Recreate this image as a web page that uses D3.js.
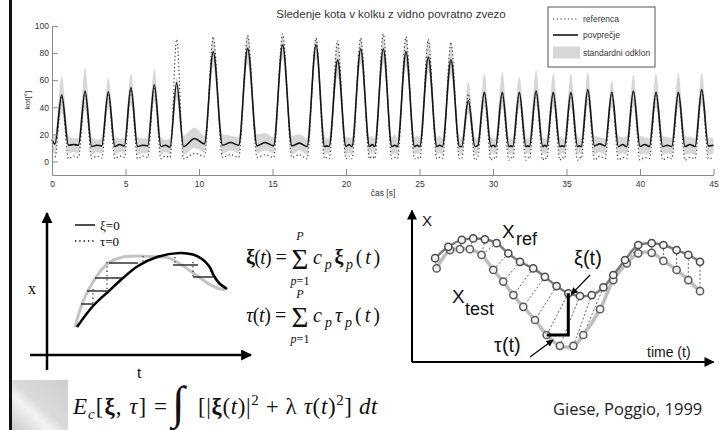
<!DOCTYPE html>
<html><head><meta charset="utf-8">
<script src="https://cdn.jsdelivr.net/npm/d3@7"></script>
<style>
html,body{margin:0;padding:0;background:#fff;}
svg{display:block;}
</style></head><body>
<svg id="c" width="719" height="430"></svg>
<script>
// ---------- Upper panel: hip angle tracking with visual feedback ----------
const time = [
  0.00, 0.20, 0.66, 1.12, 1.47, 1.80, 2.25, 2.70, 3.04, 3.38, 3.83, 4.28, 4.60, 4.92,
  5.37, 5.82, 6.17, 6.51, 6.96, 7.41, 7.72, 8.03, 8.48, 8.95, 9.70, 10.37, 10.97, 11.60,
  12.15, 12.70, 13.31, 13.95, 14.50, 15.07, 15.69, 16.32, 16.84, 17.35, 17.96, 18.55, 18.70, 18.85,
  19.43, 20.00, 20.20, 20.40, 21.00, 21.60, 21.78, 21.95, 22.54, 23.12, 23.32, 23.50, 24.08, 24.66,
  24.84, 25.02, 25.60, 26.18, 26.37, 26.56, 27.14, 27.72, 27.87, 28.32, 28.77, 28.96, 29.41, 29.86,
  30.02, 30.18, 30.63, 31.08, 31.21, 31.34, 31.79, 32.24, 32.36, 32.48, 32.93, 33.38, 33.52, 33.65,
  34.10, 34.55, 34.70, 34.85, 35.30, 35.75, 35.88, 36.00, 36.45, 36.90, 37.26, 37.63, 38.08, 38.53,
  38.82, 39.10, 39.55, 40.00, 40.32, 40.64, 41.09, 41.54, 41.85, 42.16, 42.61, 43.06, 43.40, 43.75,
  44.20, 44.65, 45.00
];
const povprecje = [
  16, 13, 49, 12, 12.5, 12, 52, 11, 12, 11.5, 51.5, 11, 12.5, 11.5,
  54.5, 11, 12, 11.5, 56.5, 11, 12, 10.5, 58, 11, 17, 13, 81, 12,
  14, 12, 83.5, 11.5, 14, 11.5, 86, 11.5, 13.5, 11, 86, 11, 11.5, 11,
  75, 11, 12.5, 11, 83, 11, 12.5, 11, 83, 11, 12, 11, 81, 11,
  12, 11, 77, 11, 12, 11, 75, 11, 11, 45, 11, 11.5, 51, 11,
  12, 11, 51, 11, 11.5, 11, 51, 11, 11.5, 11, 52, 11, 12, 11,
  51, 11, 11.5, 11, 51, 11, 11.5, 11, 53, 11.5, 13, 11.5, 51, 11,
  12.5, 11, 52, 11, 12.5, 11, 51, 11, 12, 11, 51, 11, 12.5, 11,
  53, 11.5, 12
];
const referenca = [
  4, 3, 48, 2, 4, 3, 51, 2, 4, 2.5, 50, 2, 4, 3,
  53, 2, 4, 3, 55, 2, 4, 3, 90, 2, 6, 4, 92, 3,
  5, 3, 93, 3, 5, 3, 94, 3, 5, 2, 91, 2, 3, 2,
  89, 2, 4, 2, 91, 2, 4, 2, 94, 2, 3, 2, 92, 2,
  3, 2, 90, 2, 3, 2, 88, 2, 2, 50, 1, 3, 51, 1,
  3, 2, 51, 1, 3, 2, 51, 1, 3, 2, 52, 1, 3, 2,
  51, 1, 3, 2, 51, 1, 3, 2, 53, 1, 4, 2, 51, 1,
  3, 2, 52, 1, 3, 2, 51, 1, 3, 2, 51, 1, 3, 2,
  53, 2, 3
];
const odklonSpodaj = [
  6, 6, 36, 6, 7, 6, 38, 5, 7, 6, 40, 5, 7, 6,
  42, 5, 6, 6, 44, 5, 7, 5, 46, 5, 10, 7, 70, 6,
  8, 6, 72, 6, 8, 6, 76, 5, 8, 5, 76, 5, 6, 5,
  62, 5, 6, 5, 72, 5, 7, 5, 72, 5, 6, 5, 70, 5,
  6, 5, 66, 5, 6, 5, 64, 5, 5, 35, 5, 6, 40, 5,
  6, 5, 40, 5, 6, 5, 40, 5, 6, 5, 41, 5, 6, 5,
  40, 5, 6, 5, 40, 5, 6, 5, 42, 5, 7, 5, 40, 5,
  6, 5, 40, 5, 6, 5, 40, 5, 6, 5, 40, 5, 6, 5,
  42, 5, 6
];
const odklonZgoraj = [
  24, 19, 63, 19, 17, 17, 69, 18, 16, 17, 62, 18, 17, 17,
  65, 18, 17, 17, 68, 18, 16, 17, 62, 19, 25, 19, 92, 20,
  19, 18, 94, 20, 21, 18, 94, 19, 20, 17, 92, 19, 17, 17,
  88, 18, 18, 17, 92, 18, 19, 17, 93, 18, 20, 17, 93, 18,
  19, 17, 91, 18, 19, 17, 88, 18, 17, 59, 18, 17, 65, 18,
  17, 17, 66, 18, 17, 17, 62.5, 18, 17, 17, 67.5, 18, 17, 17,
  65, 18, 17, 17, 65, 18, 17, 17, 66, 19, 18, 17, 59.5, 19,
  18, 18, 64, 19, 18, 17, 65, 19, 18, 17, 65, 19, 18, 17,
  65.5, 18, 17
];
const xTicks = [0, 5, 10, 15, 20, 25, 30, 35, 40, 45];
const yTicks = [0, 20, 40, 60, 80, 100];
const legendLabels = ["referenca", "povprečje", "standardni odklon"];

// ---------- Lower-left sketch: warping of a trajectory (t, x) ----------
const sketchBlack = [[1.5,1.4],[2.3,2.45],[3.15,3.25],[3.8,3.85],[4.55,4.45],[5.5,4.9],[6.65,5.1],[7.3,5.02],[7.75,4.8],[8.1,4.45],[8.35,3.95],[8.6,3.6],[9.0,3.3]];
const sketchGray = [[1.4,1.4],[1.65,2.25],[1.9,2.9],[2.3,3.65],[2.8,4.35],[3.15,4.65],[3.8,4.9],[4.65,4.95],[5.5,4.9],[6.0,4.88],[6.5,4.65],[7.1,4.25],[7.6,3.9],[8.1,3.55],[8.5,3.35],[8.9,3.25]];
const spaceShift = [[3.1,4.55,4.6],[2.4,3.8,3.85],[2.0,3.15,3.2],[1.7,2.3,2.55],[6.3,7.55,4.5],[7.3,8.3,3.9]];
const timeShift = [[3.0,4.65,3.3],[2.3,3.3,2.6],[4.8,4.95,4.55],[6.4,4.9,4.5],[7.3,4.65,3.9]];

// ---------- Lower-right sketch: reference and test trajectories ----------
const xRef = [[0.77,3.46],[1.21,3.84],[1.66,4.07],[2.04,4.12],[2.43,4.09],[2.82,3.96],[3.21,3.62],[3.6,3.34],[4.04,3.12],[4.43,2.84],[4.82,2.53],[5.21,2.29],[5.6,2.2],[5.99,2.23],[6.38,2.49],[6.71,2.9],[7.1,3.4],[7.54,3.9],[7.99,3.96],[8.38,3.9],[8.82,3.73],[9.21,3.57],[9.6,3.34]];
const xTest = [[0.82,3.12],[1.27,3.73],[1.6,3.76],[1.93,3.76],[2.32,3.57],[2.71,3.07],[3.04,2.68],[3.38,2.23],[3.71,1.84],[4.1,1.4],[4.49,0.9],[4.93,0.54],[5.38,0.54],[5.71,0.9],[6.27,1.76],[6.71,2.73],[7.16,3.29],[7.54,3.62],[7.99,3.64],[8.38,3.37],[8.82,3.07],[9.21,2.73],[9.6,2.36]];
const warpPairs = [[0,0],[1,1],[2,2],[3,3],[4,4],[5,4],[6,5],[7,6],[8,7],[9,8],[10,9],[11,10],[12,11],[13,12],[14,13],[15,14],[16,15],[17,16],[18,18],[19,19],[20,20],[21,21],[22,22]];
const markedRef = 11, markedTest = 10;

const svg = d3.select('#c');
const W = 719, H = 430;
const sans = "'Liberation Sans', Arial, sans-serif";
const serif = "'Liberation Serif', 'Times New Roman', serif";

// arrowheads
const defs = svg.append('defs');
function arrowMarker(id, w, h) {
  defs.append('marker').attr('id', id).attr('viewBox', '0 0 10 10')
    .attr('refX', 9).attr('refY', 5).attr('markerUnits', 'userSpaceOnUse')
    .attr('markerWidth', w).attr('markerHeight', h).attr('orient', 'auto')
    .append('path').attr('d', 'M0,0L10,5L0,10Z').attr('fill', '#000');
}
arrowMarker('axisHead', 15, 11);
arrowMarker('axisHead2', 13, 10);
arrowMarker('smallHead', 8, 7);
const grad = defs.append('linearGradient').attr('id', 'corner')
  .attr('x1', 0).attr('y1', 1).attr('x2', 1).attr('y2', 0);
[[0,'#c9c9c9'],[0.35,'#f3f3f3'],[0.5,'#dadada'],[1,'#cfcfcf']].forEach(([o,c]) =>
  grad.append('stop').attr('offset', o).attr('stop-color', c));

svg.append('rect').attr('width', W).attr('height', H).attr('fill', '#fff');
svg.append('rect').attr('x', 9).attr('y', 0).attr('width', 3).attr('height', H).attr('fill', '#111');
svg.append('rect').attr('x', 12).attr('y', 380).attr('width', 56).attr('height', 50).attr('fill', 'url(#corner)');

// ---------- upper chart ----------
const x = d3.scaleLinear([0, 45], [52, 713.5]);
const y = d3.scaleLinear([-10, 100], [175, 26]);
const rows = time.map((t, i) => ({t, ref: referenca[i], mean: povprecje[i], lo: odklonSpodaj[i], hi: odklonZgoraj[i]}));
const upper = svg.append('g');

upper.append('path').datum(rows)
  .attr('d', d3.area().x(d => x(d.t)).y0(d => y(d.lo)).y1(d => y(d.hi)).curve(d3.curveMonotoneX))
  .attr('fill', '#d7d7d7');
upper.append('path').datum(rows)
  .attr('d', d3.line().x(d => x(d.t)).y(d => y(d.ref)).curve(d3.curveMonotoneX))
  .attr('fill', 'none').attr('stroke', '#3a3a3a').attr('stroke-width', 1.1).attr('stroke-dasharray', '1.3,2.4');
upper.append('path').datum(rows)
  .attr('d', d3.line().x(d => x(d.t)).y(d => y(d.mean)).curve(d3.curveMonotoneX))
  .attr('fill', 'none').attr('stroke', '#151515').attr('stroke-width', 1.6);

const xAxis = upper.append('g').attr('transform', `translate(0,${y(-10)})`)
  .call(d3.axisBottom(x).tickValues(xTicks).tickSizeInner(-6).tickSizeOuter(0).tickPadding(5.5));
const yAxis = upper.append('g').attr('transform', `translate(${x(0)},0)`)
  .call(d3.axisLeft(y).tickValues(yTicks).tickSizeInner(-6).tickSizeOuter(0).tickPadding(3));
[xAxis, yAxis].forEach(a => {
  a.select('.domain').attr('stroke', '#8a8a8a');
  a.selectAll('.tick line').attr('stroke', '#8a8a8a');
  a.selectAll('.tick text').attr('fill', '#333').style('font-family', sans).style('font-size', '8.5px');
});

upper.append('text').attr('x', 391).attr('y', 18).attr('text-anchor', 'middle')
  .style('font-family', sans).style('font-size', '11.5px').attr('fill', '#333')
  .text('Sledenje kota v kolku z vidno povratno zvezo');
upper.append('text').attr('x', 383).attr('y', 196).attr('text-anchor', 'middle')
  .style('font-family', sans).style('font-size', '8.5px').attr('fill', '#333').text('čas [s]');
upper.append('text').attr('transform', 'translate(30,100) rotate(-90)').attr('text-anchor', 'middle')
  .style('font-family', sans).style('font-size', '8px').attr('fill', '#333').text('kot[°]');

// legend
const lg = upper.append('g');
lg.append('rect').attr('x', 548).attr('y', 7).attr('width', 107).attr('height', 60)
  .attr('fill', '#fff').attr('stroke', '#555').attr('stroke-width', 1);
lg.append('line').attr('x1', 553).attr('x2', 578).attr('y1', 19).attr('y2', 19)
  .attr('stroke', '#3a3a3a').attr('stroke-width', 1.1).attr('stroke-dasharray', '1.3,2.4');
lg.append('line').attr('x1', 553).attr('x2', 578).attr('y1', 35).attr('y2', 35)
  .attr('stroke', '#151515').attr('stroke-width', 1.6);
lg.append('rect').attr('x', 553).attr('y', 46.5).attr('width', 27).attr('height', 12).attr('fill', '#d7d7d7');
legendLabels.forEach((l, i) => lg.append('text').attr('x', 583).attr('y', [22, 38, 56][i])
  .style('font-family', sans).style('font-size', '8.5px').attr('fill', '#333').text(l));

// ---------- lower-left sketch ----------
const sT = d3.scaleLinear([0, 10], [47, 247]);
const sX = d3.scaleLinear([0, 7], [355, 215]);
const ls = svg.append('g');
ls.append('line').attr('x1', sT(0)).attr('x2', sT(0)).attr('y1', sX(-0.75)).attr('y2', sX(7.1))
  .attr('stroke', '#000').attr('stroke-width', 2.5).attr('marker-end', 'url(#axisHead)');
ls.append('line').attr('x1', sT(-0.85)).attr('x2', sT(10.2)).attr('y1', sX(0)).attr('y2', sX(0))
  .attr('stroke', '#000').attr('stroke-width', 2.5).attr('marker-end', 'url(#axisHead)');
const sLine = d3.line().x(d => sT(d[0])).y(d => sX(d[1])).curve(d3.curveCatmullRom);
ls.append('path').datum(sketchGray).attr('d', sLine).attr('fill', 'none').attr('stroke', '#c4c4c4').attr('stroke-width', 3);
ls.append('path').datum(sketchBlack).attr('d', sLine).attr('fill', 'none').attr('stroke', '#000').attr('stroke-width', 2.6);
ls.selectAll('.sh').data(spaceShift).join('line')
  .attr('x1', d => sT(d[0])).attr('x2', d => sT(d[1])).attr('y1', d => sX(d[2])).attr('y2', d => sX(d[2]))
  .attr('stroke', '#222').attr('stroke-width', 1.4);
ls.selectAll('.th').data(timeShift).join('line')
  .attr('x1', d => sT(d[0])).attr('x2', d => sT(d[0])).attr('y1', d => sX(d[1])).attr('y2', d => sX(d[2]))
  .attr('stroke', '#333').attr('stroke-width', 1.3).attr('stroke-dasharray', '1.3,3');
ls.append('line').attr('x1', 75).attr('x2', 95).attr('y1', 225).attr('y2', 225).attr('stroke', '#000').attr('stroke-width', 1.4);
ls.append('line').attr('x1', 75).attr('x2', 95).attr('y1', 241).attr('y2', 241).attr('stroke', '#000').attr('stroke-width', 1.3).attr('stroke-dasharray', '1.3,3');
ls.append('text').attr('x', 100).attr('y', 229.5).style('font-family', serif).style('font-size', '13px').text('ξ=0');
ls.append('text').attr('x', 100).attr('y', 245.5).style('font-family', serif).style('font-size', '13px').text('τ=0');
ls.append('text').attr('x', 28).attr('y', 294).style('font-family', serif).style('font-size', '16px').text('x');
ls.append('text').attr('x', 137).attr('y', 378).style('font-family', serif).style('font-size', '16px').text('t');

// ---------- formulas ----------
// stretch a text run to a given advance width through letter spacing
function fit(sel, width) {
  const n = sel.text().length;
  const w = sel.node().getComputedTextLength();
  sel.style('letter-spacing', ((width - w) / n) + 'px');
}
function sumFormula(g, x0, base, lhsSym, lhsBold, termSym, termBold) {
  const t = g.append('text').attr('x', x0).attr('y', base).style('font-family', serif).style('font-size', '20px');
  t.append('tspan').style('font-weight', lhsBold ? 'bold' : 'normal').style('font-style', lhsBold ? 'normal' : 'italic').text(lhsSym);
  t.append('tspan').text('(');
  t.append('tspan').style('font-style', 'italic').text('t');
  t.append('tspan').text(') =');
  fit(t, 40);
  g.append('text').attr('x', 300).attr('y', base + 5).attr('text-anchor', 'middle')
    .style('font-family', serif).style('font-size', '29px').text('Σ');
  g.append('text').attr('x', 300).attr('y', base - 24).attr('text-anchor', 'middle')
    .style('font-family', serif).style('font-size', '12px').style('font-style', 'italic').text('P');
  const lo = g.append('text').attr('x', 300).attr('y', base + 21).attr('text-anchor', 'middle')
    .style('font-family', serif).style('font-size', '12px');
  lo.append('tspan').style('font-style', 'italic').text('p');
  lo.append('tspan').text('=1');
  const r = g.append('text').attr('x', 313).attr('y', base).style('font-family', serif).style('font-size', '20px');
  r.append('tspan').style('font-style', 'italic').text('c');
  r.append('tspan').attr('dy', 5).style('font-size', '14px').style('font-style', 'italic').text('p');
  r.append('tspan').attr('dy', -5).style('font-weight', termBold ? 'bold' : 'normal').style('font-style', termBold ? 'normal' : 'italic').text(termSym);
  r.append('tspan').attr('dy', 5).style('font-size', '14px').style('font-style', 'italic').text('p');
  r.append('tspan').attr('dy', -5).text('(');
  r.append('tspan').style('font-style', 'italic').text('t');
  r.append('tspan').text(')');
  fit(r, 70);
}
const fm = svg.append('g').attr('fill', '#111');
sumFormula(fm, 246, 264, 'ξ', true, 'ξ', true);
sumFormula(fm, 246, 322, 'τ', false, 'τ', false);

const ef = fm.append('text').attr('x', 73).attr('y', 414).style('font-family', serif).style('font-size', '23px');
ef.append('tspan').style('font-style', 'italic').text('E');
ef.append('tspan').attr('dy', 5).style('font-size', '15px').style('font-style', 'italic').text('c');
ef.append('tspan').attr('dy', -5).text('[');
ef.append('tspan').style('font-weight', 'bold').text('ξ');
ef.append('tspan').text(', ');
ef.append('tspan').style('font-style', 'italic').text('τ');
ef.append('tspan').text('] =');
fit(ef, 95);
fm.append('text').attr('x', 172).attr('y', 418).style('font-family', serif).style('font-size', '46px').text('∫');
const ef2 = fm.append('text').attr('x', 198).attr('y', 414).style('font-family', serif).style('font-size', '23px');
ef2.append('tspan').text('[|');
ef2.append('tspan').style('font-weight', 'bold').text('ξ');
ef2.append('tspan').text('(');
ef2.append('tspan').style('font-style', 'italic').text('t');
ef2.append('tspan').text(')|');
ef2.append('tspan').attr('dy', -9).style('font-size', '15px').text('2');
ef2.append('tspan').attr('dy', 9).text(' + λ ');
ef2.append('tspan').style('font-style', 'italic').text('τ');
ef2.append('tspan').text('(');
ef2.append('tspan').style('font-style', 'italic').text('t');
ef2.append('tspan').text(')');
ef2.append('tspan').attr('dy', -9).style('font-size', '15px').text('2');
ef2.append('tspan').attr('dy', 9).text('] ');
ef2.append('tspan').style('font-style', 'italic').text('dt');
fit(ef2, 180);

svg.append('text').attr('x', 553).attr('y', 415).style('font-family', "'Open Sans', sans-serif")
  .style('font-size', '16.5px').attr('fill', '#222').text('Giese, Poggio, 1999');

// ---------- lower-right sketch ----------
const rT = d3.scaleLinear([0, 10], [412, 712]);
const rX = d3.scaleLinear([0, 5], [362, 212]);
const rs = svg.append('g');
rs.append('line').attr('x1', rT(0)).attr('x2', rT(0)).attr('y1', rX(0)).attr('y2', rX(5.05))
  .attr('stroke', '#000').attr('stroke-width', 2).attr('marker-end', 'url(#axisHead2)');
rs.append('line').attr('x1', rT(0)).attr('x2', rT(10.05)).attr('y1', rX(0)).attr('y2', rX(0))
  .attr('stroke', '#000').attr('stroke-width', 2).attr('marker-end', 'url(#axisHead2)');
const rLine = d3.line().x(d => rT(d[0])).y(d => rX(d[1])).curve(d3.curveCatmullRom);
rs.selectAll('.wp').data(warpPairs).join('line')
  .attr('x1', d => rT(xRef[d[0]][0])).attr('y1', d => rX(xRef[d[0]][1]))
  .attr('x2', d => rT(xTest[d[1]][0])).attr('y2', d => rX(xTest[d[1]][1]))
  .attr('stroke', '#666').attr('stroke-width', 1).attr('stroke-dasharray', '2,2');
rs.append('path').datum(xTest).attr('d', rLine).attr('fill', 'none').attr('stroke', '#bdbdbd').attr('stroke-width', 3.5);
rs.append('path').datum(xRef).attr('d', rLine).attr('fill', 'none').attr('stroke', '#7a7a7a').attr('stroke-width', 2.5);
rs.selectAll('.ct').data(xTest).join('circle').attr('cx', d => rT(d[0])).attr('cy', d => rX(d[1])).attr('r', 3.6)
  .attr('fill', '#f2f2f2').attr('stroke', '#5a5a5a').attr('stroke-width', 1.5);
rs.selectAll('.cr').data(xRef).join('circle').attr('cx', d => rT(d[0])).attr('cy', d => rX(d[1])).attr('r', 3.6)
  .attr('fill', '#f2f2f2').attr('stroke', '#4a4a4a').attr('stroke-width', 1.5);
// marked space and time displacement
const pR = xRef[markedRef], pT = xTest[markedTest];
rs.append('path').datum([pR, [pR[0], pT[1]], pT])
  .attr('d', d3.line().x(d => rT(d[0])).y(d => rX(d[1])))
  .attr('fill', 'none').attr('stroke', '#000').attr('stroke-width', 3);
rs.append('line').attr('x1', 590).attr('y1', 275).attr('x2', rT(pR[0]) + 3).attr('y2', rX(pR[1]) + 1)
  .attr('stroke', '#000').attr('stroke-width', 1.2).attr('marker-end', 'url(#smallHead)');
rs.append('line').attr('x1', 530).attr('y1', 357).attr('x2', 553).attr('y2', 340)
  .attr('stroke', '#000').attr('stroke-width', 1.2).attr('marker-end', 'url(#smallHead)');
const lab = (tx, ty, s, size) => rs.append('text').attr('x', tx).attr('y', ty)
  .style('font-family', sans).style('font-size', size + 'px').attr('fill', '#111').text(s);
lab(422, 226, 'X', 15);
lab(647, 357, 'time (t)', 14);
lab(502, 238, 'X', 19); lab(516, 245, 'ref', 18);
lab(452, 303, 'X', 19); lab(465, 315, 'test', 18);
lab(574, 265, 'ξ(t)', 20);
lab(494, 352, 'τ(t)', 20);
</script>
</body></html>
